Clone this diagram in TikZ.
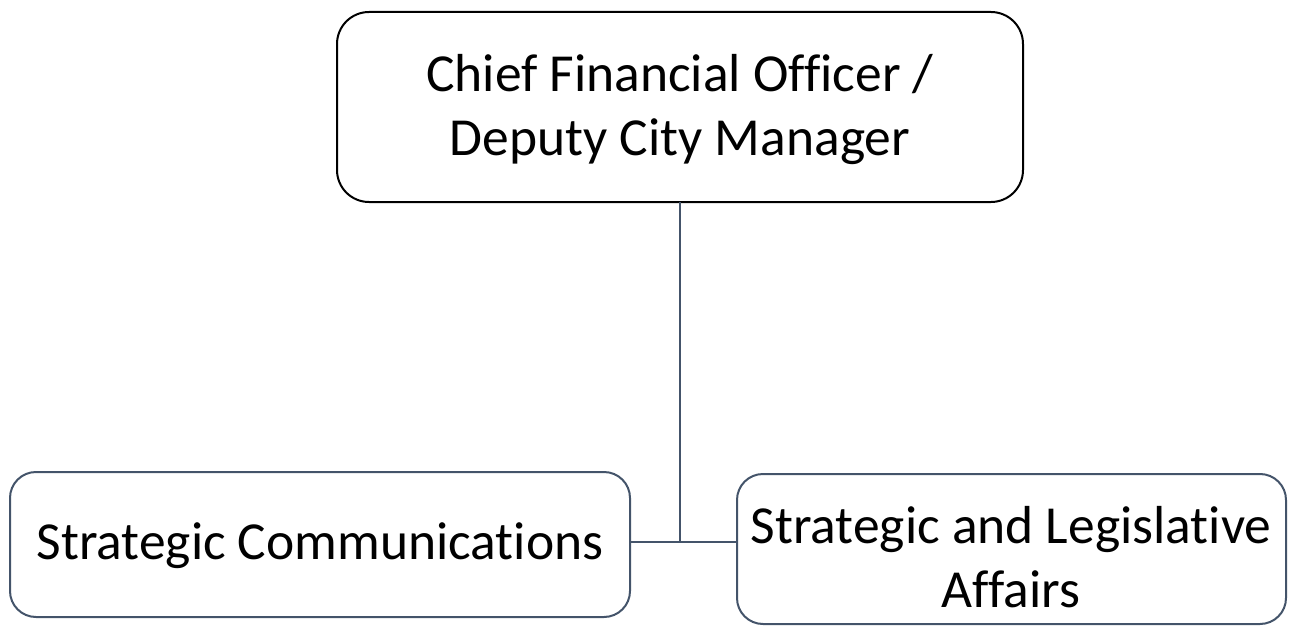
\documentclass[tikz,border=0pt]{standalone}
\usepackage{fontspec}
\setmainfont[Ligatures=NoCommon]{Carlito}
\definecolor{slate}{HTML}{44546A}
\begin{document}
\begin{tikzpicture}[x=1pt,y=-1pt,
  topbox/.style={draw=black,line width=2pt,rounded corners=32pt},
  subbox/.style={draw=slate,line width=2pt,rounded corners=26pt},
  conn/.style={draw=slate,line width=2pt},
  lbl/.style={font=\fontsize{53.5}{64}\selectfont,align=center,inner sep=0pt}]
\useasboundingbox (0,0) rectangle (1291,626);
\draw[topbox] (337,12) rectangle (1023,202);
\node[lbl] (cfo) at (680,110) {Chief Financial Officer /\\Deputy City Manager};
\draw[subbox] (10,472) rectangle (630,617);
\node[lbl] (sc) at (320,546) {Strategic Communications};
\draw[subbox] (737,474) rectangle (1286,624);
\node[lbl] (sla) at (1011,557) {Strategic and Legislative\\Affairs};
\coordinate (top) at (680,202);
\coordinate (j) at (680,542);
\coordinate (l) at (630,542);
\coordinate (r) at (737,542);
\draw[conn] (top) -- (j);
\draw[conn] (l) -- (r);
\end{tikzpicture}
\end{document}
